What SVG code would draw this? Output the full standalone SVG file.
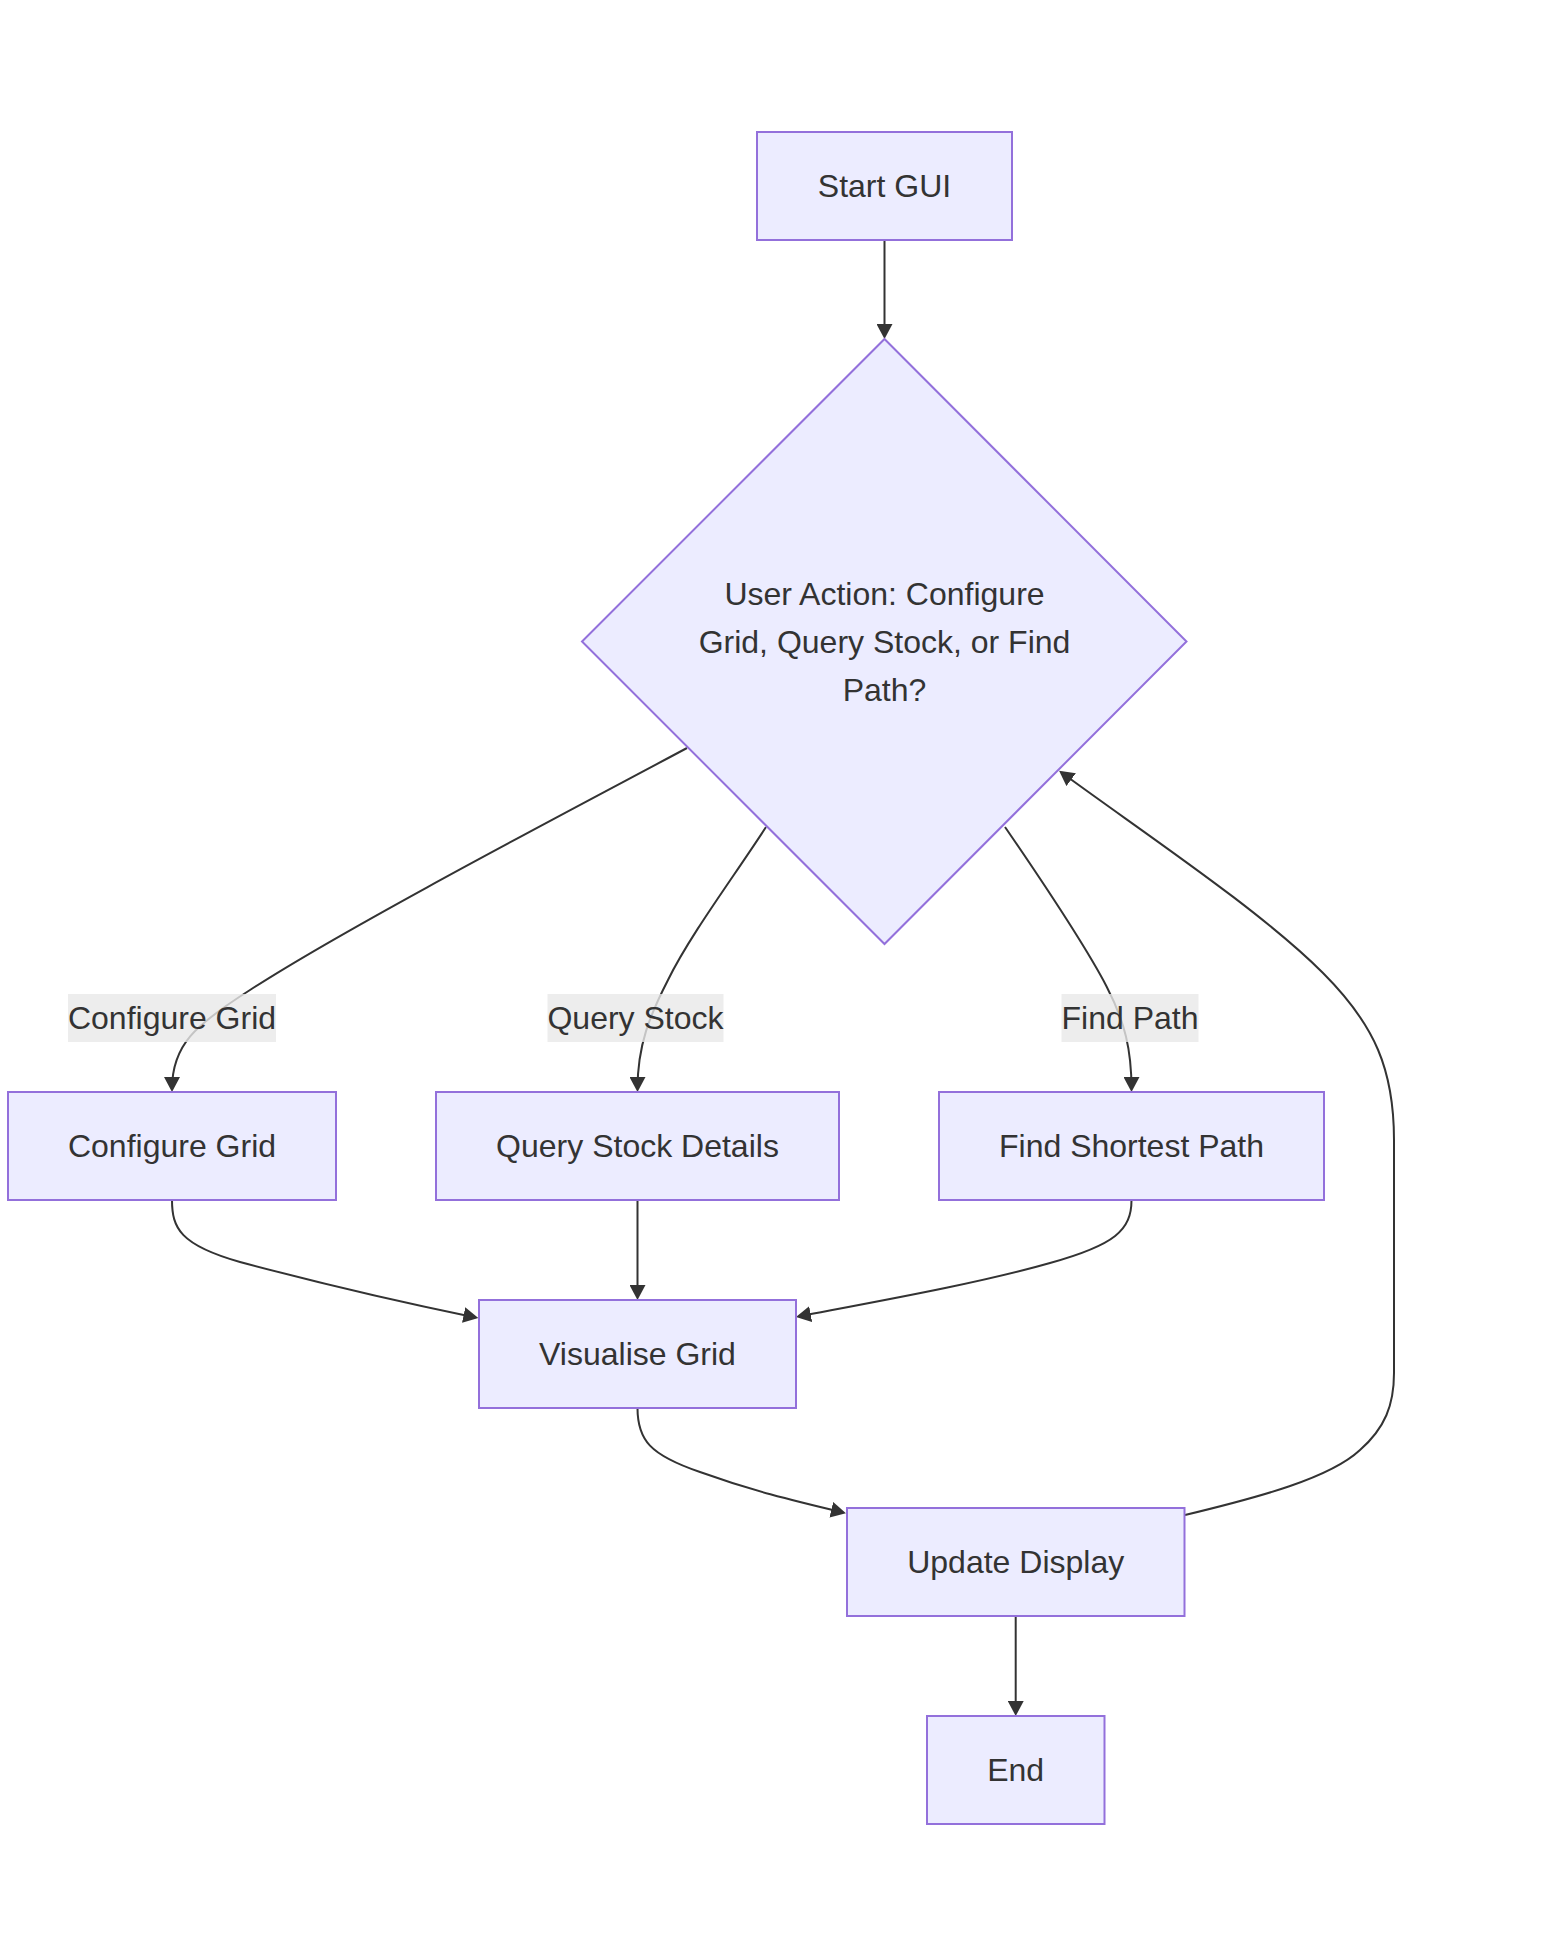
<svg xmlns="http://www.w3.org/2000/svg" width="1554" height="1956" viewBox="0 0 1554 1956">
<style>
.node rect,.node polygon{fill:#ECECFF;stroke:#9370DB;stroke-width:2}
.node text,.label text{font-family:"Liberation Sans",Arial,sans-serif;font-size:32px;fill:#333333;text-anchor:middle}
.edge{fill:none;stroke:#333333;stroke-width:2;marker-end:url(#arrow)}
.label rect{fill:#e8e8e8;fill-opacity:0.8}
</style>
<defs>
<marker id="arrow" markerUnits="userSpaceOnUse" markerWidth="15" markerHeight="16" viewBox="0 0 15 16" refX="12" refY="8" orient="auto">
<path d="M0,0 L15,8 L0,16 z" fill="#333333"/>
</marker>
</defs>
<rect width="1554" height="1956" fill="#ffffff"/>
<g id="connectors">
<path class="edge" d="M884.5,240 L884.5,336"/>
<path class="edge" d="M687,748 C590,800 350,925 250,990 C195,1025 172,1045 172,1089"/>
<path class="edge" d="M766,827 C735,875 690,935 668,980 C650,1015 637.5,1045 637.5,1089"/>
<path class="edge" d="M1005,827 C1040,878 1085,945 1106.7,986.7 C1125,1022 1131.5,1050 1131.5,1089"/>
<path class="edge" d="M172,1200 C172,1228 180,1245 240,1262 C300,1278 390,1300 475.4,1317.4"/>
<path class="edge" d="M637.5,1200 L637.5,1297"/>
<path class="edge" d="M1131.5,1200 C1131.5,1230 1115,1245 1050,1263 C980,1283 885,1300 798.9,1316.4"/>
<path class="edge" d="M637.5,1408 C637.5,1440 650,1455 700,1472 C750,1490 790,1500 843,1512.5"/>
<path class="edge" d="M1015.7,1616 L1015.7,1713"/>
<path class="edge" d="M1185,1515 C1260,1497 1330,1478 1360,1450 C1385,1428 1394,1405 1394,1373 L1394,1140 C1394,1070 1375,1025 1323,973 C1260,910 1146,834.5 1061.5,772.5"/>
</g>
<g id="label-configure" class="label">
<rect x="68" y="994" width="208" height="48"/>
<text x="172" y="1029">Configure Grid</text>
</g>
<g id="label-query" class="label">
<rect x="547.5" y="994" width="176" height="48"/>
<text x="635.5" y="1029">Query Stock</text>
</g>
<g id="label-find" class="label">
<rect x="1061.5" y="994" width="137" height="48"/>
<text x="1130" y="1029">Find Path</text>
</g>
<g id="start" class="node">
<rect x="757" y="132" width="255" height="108"/>
<text x="884.5" y="197">Start GUI</text>
</g>
<g id="decision" class="node">
<polygon points="884.5,339 1186.5,641.5 884.5,944 582,641.5"/>
<text x="884.5" y="604.5">User Action: Configure</text>
<text x="884.5" y="652.5">Grid, Query Stock, or Find</text>
<text x="884.5" y="700.5">Path?</text>
</g>
<g id="configure" class="node">
<rect x="8" y="1092" width="328" height="108"/>
<text x="172" y="1157">Configure Grid</text>
</g>
<g id="query" class="node">
<rect x="436" y="1092" width="403" height="108"/>
<text x="637.5" y="1157">Query Stock Details</text>
</g>
<g id="findpath" class="node">
<rect x="939" y="1092" width="385" height="108"/>
<text x="1131.5" y="1157">Find Shortest Path</text>
</g>
<g id="visualise" class="node">
<rect x="479" y="1300" width="317" height="108"/>
<text x="637.5" y="1365">Visualise Grid</text>
</g>
<g id="update" class="node">
<rect x="847" y="1508" width="337.5" height="108"/>
<text x="1015.7" y="1573">Update Display</text>
</g>
<g id="end" class="node">
<rect x="927" y="1716" width="177.5" height="108"/>
<text x="1015.7" y="1781">End</text>
</g>
</svg>
